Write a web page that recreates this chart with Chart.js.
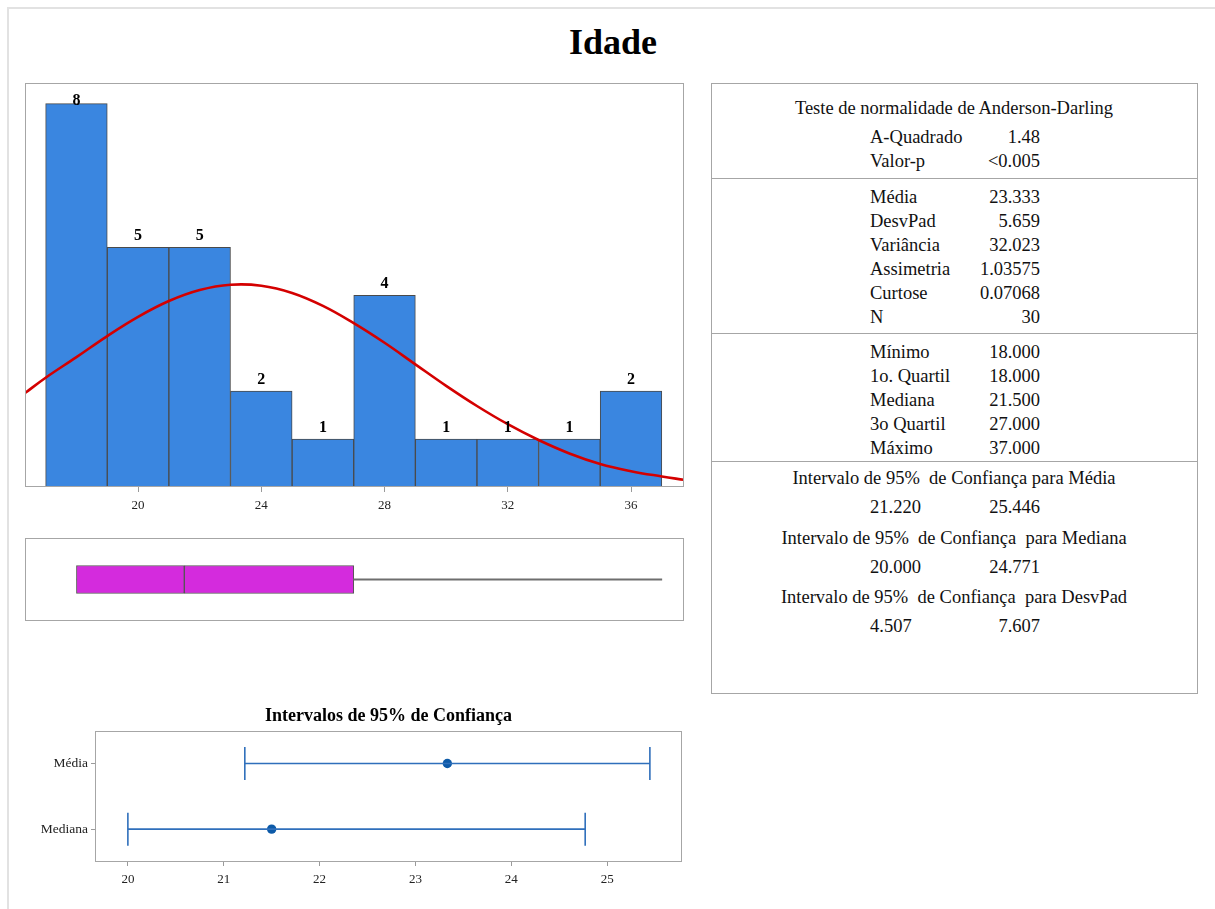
<!DOCTYPE html>
<html>
<head>
<meta charset="utf-8">
<title>Idade</title>
<script src="https://cdn.jsdelivr.net/npm/chart.js@4.4.1/dist/chart.umd.min.js"></script>
<style>
  html, body { margin: 0; padding: 0; background: #fff; }
  #page { position: relative; width: 1215px; height: 909px; overflow: hidden;
          font-family: 'Liberation Serif', 'Times New Roman', serif; color: #111; }
  #page canvas { position: absolute; }
  .frameOuter { position: absolute; left: 7px; top: 7px; right: 0; bottom: 0;
                border-top: 2px solid #e2e2e2; border-left: 2px solid #e2e2e2; }
  .title { position: absolute; font-weight: bold; font-size: 36px; line-height: 40px;
           white-space: pre; transform: translateX(-50%); color: #000; }
  .panel { position: absolute; border: 1px solid #a6a6a6; box-sizing: border-box; }
  .rule { position: absolute; height: 0; border-top: 1px solid #a6a6a6; }
  .t { position: absolute; white-space: pre; font-size: 18.5px; line-height: 20px; color: #111; }
</style>
</head>
<body>
<div id="page">
  <div class="frameOuter"></div>
  <div class="title" id="mainTitle" style="left:613px; top:22px;"></div>
  <canvas id="hist" width="700" height="460" style="left:0; top:70px;"></canvas>
  <canvas id="box" width="700" height="100" style="left:0; top:530px;"></canvas>
  <canvas id="ci" width="700" height="209" style="left:0; top:700px;"></canvas>
  <div class="panel" style="left:711px; top:83px; width:487px; height:611px;"></div>
  <div class="rule" style="left:711px; top:178px; width:487px;"></div>
  <div class="rule" style="left:711px; top:333px; width:487px;"></div>
  <div class="rule" style="left:711px; top:461px; width:487px;"></div>
</div>
<script>
// ---- data ----
const variableName = 'Idade';

// histogram: bin centres (width 2) and frequencies
const binCenters = [18, 20, 22, 24, 26, 28, 30, 32, 34, 36];
const binCounts  = [8, 5, 5, 2, 1, 4, 1, 1, 1, 2];
const histTicks  = [20, 24, 28, 32, 36];

// fitted normal curve, in frequency units
const fitX = [16.33, 17, 18, 19, 20, 21, 22, 23, 24, 25, 26, 27, 28, 29, 30, 31, 32, 33, 34, 35, 36, 37, 37.72];
const fitY = [1.96, 2.28, 2.71, 3.15, 3.55, 3.88, 4.11, 4.22, 4.20, 4.05, 3.78, 3.42, 3.01, 2.56, 2.11, 1.69, 1.31, 0.98, 0.70, 0.48, 0.33, 0.22, 0.15];

// Anderson-Darling test
const adLabels = ['A-Quadrado', 'Valor-p'];
const adValues = ['1.48', '<0.005'];

// moments
const momentLabels = ['Média', 'DesvPad', 'Variância', 'Assimetria', 'Curtose', 'N'];
const momentValues = ['23.333', '5.659', '32.023', '1.03575', '0.07068', '30'];

// five-number summary
const quantLabels = ['Mínimo', '1o. Quartil', 'Mediana', '3o Quartil', 'Máximo'];
const quantValues = [18.000, 18.000, 21.500, 27.000, 37.000];

// 95% confidence intervals
const meanValue   = 23.333;
const medianValue = 21.500;
const ciMean   = [21.220, 25.446];
const ciMedian = [20.000, 24.771];
const ciSd     = [4.507, 7.607];
const ciTitles = ['Intervalo de 95%  de Confiança para Média',
                  'Intervalo de 95%  de Confiança  para Mediana',
                  'Intervalo de 95%  de Confiança  para DesvPad'];
const ciRowLabels = ['Média', 'Mediana'];
const ciTicks = [20, 21, 22, 23, 24, 25];
const ciChartTitle = 'Intervalos de 95% de Confiança';

// ---- shared styling ----
const SERIF = "'Liberation Serif', 'Times New Roman', serif";
Chart.defaults.font.family = SERIF;
Chart.defaults.animation = false;
Chart.defaults.plugins.legend.display = false;
Chart.defaults.plugins.tooltip.enabled = false;

const HIST_MIN = 16.33, HIST_MAX = 37.72;

// thin grey box around each plot area
const framePlugin = {
  id: 'frame',
  afterDatasetsDraw(chart) {
    const { ctx, chartArea: a } = chart;
    const l = Math.round(a.left) + 0.5, t = Math.round(a.top) + 0.5;
    const r = Math.round(a.right) - 0.5, b = Math.round(a.bottom) - 0.5;
    ctx.save();
    ctx.strokeStyle = '#a6a6a6';
    ctx.lineWidth = 1;
    ctx.strokeRect(l, t, r - l, b - t);
    ctx.restore();
  }
};

// frequency written above each histogram bar
const countLabels = {
  id: 'countLabels',
  afterDatasetsDraw(chart) {
    const idx = chart.data.datasets.findIndex(d => d.type === 'bar');
    const meta = chart.getDatasetMeta(idx);
    const ctx = chart.ctx;
    ctx.save();
    ctx.font = 'bold 16px ' + SERIF;
    ctx.fillStyle = '#000';
    ctx.textAlign = 'center';
    ctx.textBaseline = 'alphabetic';
    meta.data.forEach((bar, i) => {
      const y = Math.max(bar.y - 7, chart.chartArea.top + 22);
      ctx.fillText(String(binCounts[i]), bar.x, y);
    });
    ctx.restore();
  }
};

const fixedTicks = list => scale => { scale.ticks = list.map(v => ({ value: v })); };

// ---- histogram with normal fit ----
new Chart(document.getElementById('hist'), {
  type: 'bar',
  data: {
    datasets: [
      { type: 'line', data: fitX.map((x, i) => ({ x, y: fitY[i] })),
        borderColor: '#d40000', borderWidth: 2.6, pointRadius: 0, tension: 0.4, order: 0 },
      { type: 'bar', data: binCenters.map((x, i) => ({ x, y: binCounts[i] })),
        backgroundColor: '#3a86e0', borderColor: '#4a4a4a', borderWidth: 1,
        barPercentage: 1, categoryPercentage: 1, order: 1 }
    ]
  },
  options: {
    responsive: false,
    layout: { padding: { left: 25, right: 16, top: 13, bottom: 0 } },
    scales: {
      x: {
        type: 'linear', min: HIST_MIN, max: HIST_MAX, offset: false,
        afterBuildTicks: fixedTicks(histTicks),
        afterFit: s => { s.height = 43; },
        grid: { display: true, offset: false, drawOnChartArea: false, drawTicks: true, tickLength: 5, color: '#9a9a9a' },
        border: { display: false },
        ticks: { padding: 6, color: '#222', font: { size: 13 } }
      },
      y: { type: 'linear', min: 0, max: 8.43, display: false }
    }
  },
  plugins: [framePlugin, countLabels]
});

// ---- box plot on the same scale ----
const [qMin, qQ1, qMed, qQ3, qMax] = quantValues;
const whiskerStyle = { backgroundColor: '#6e6e6e', barThickness: 1.5, grouped: false };
const boxStyle = { backgroundColor: '#d42bdd', borderColor: '#555', borderWidth: 1,
                   borderSkipped: false, barThickness: 28, grouped: false };
new Chart(document.getElementById('box'), {
  type: 'bar',
  data: {
    labels: [variableName],
    datasets: [
      Object.assign({ data: [[qMin, qQ1]] }, whiskerStyle),
      Object.assign({ data: [[qQ3, qMax]] }, whiskerStyle),
      Object.assign({ data: [[qQ1, qMed]] }, boxStyle),
      Object.assign({ data: [[qMed, qQ3]] }, boxStyle)
    ]
  },
  options: {
    responsive: false,
    indexAxis: 'y',
    layout: { padding: { left: 25, right: 16, top: 8, bottom: 9 } },
    scales: {
      x: { type: 'linear', min: HIST_MIN, max: HIST_MAX, display: false },
      y: { type: 'category', display: false }
    }
  },
  plugins: [framePlugin]
});

// ---- confidence intervals ----
const ciBlue = '#2f6fbb';
const ciRows = [
  { value: meanValue, lo: ciMean[0], hi: ciMean[1] },
  { value: medianValue, lo: ciMedian[0], hi: ciMedian[1] }
];
const ciDatasets = [];
ciRows.forEach((row, i) => {
  const y = ciRowLabels.length - 1 - i;
  ciDatasets.push({ data: [{ x: row.lo, y }, { x: row.hi, y }], showLine: true,
                    borderColor: ciBlue, borderWidth: 1.6, pointRadius: 0 });
  ciDatasets.push({ data: [{ x: row.lo, y }, { x: row.hi, y }], showLine: false,
                    pointStyle: 'line', pointRotation: 90, pointRadius: 16.5,
                    pointBorderColor: ciBlue, pointBorderWidth: 1.6 });
  ciDatasets.push({ data: [{ x: row.value, y }], showLine: false,
                    pointStyle: 'circle', pointRadius: 4.7,
                    pointBackgroundColor: '#0d5aa8', pointBorderColor: '#0d5aa8', pointBorderWidth: 0 });
});
new Chart(document.getElementById('ci'), {
  type: 'scatter',
  data: { datasets: ciDatasets },
  options: {
    responsive: false,
    layout: { padding: { left: 0, right: 16, top: 0, bottom: 0 } },
    plugins: {
      title: { display: true, text: ciChartTitle, fullSize: false, color: '#000',
               font: { size: 18, weight: 'bold' }, padding: { top: 6, bottom: 3 } }
    },
    scales: {
      x: {
        type: 'linear', min: 19.657, max: 25.78,
        afterBuildTicks: fixedTicks(ciTicks),
        afterFit: s => { s.height = 47; },
        grid: { display: true, drawOnChartArea: false, drawTicks: true, tickLength: 4, color: '#9a9a9a' },
        border: { display: false },
        ticks: { padding: 6, color: '#222', font: { size: 13 } }
      },
      y: {
        type: 'linear', min: -0.5, max: 1.5,
        afterBuildTicks: fixedTicks(ciRowLabels.map((_, i) => ciRowLabels.length - 1 - i)),
        afterFit: s => { s.width = 95; },
        grid: { display: true, drawOnChartArea: false, drawTicks: true, tickLength: 4, color: '#9a9a9a' },
        border: { display: false },
        ticks: { padding: 3, color: '#222', font: { size: 13.5 },
                 callback: v => ciRowLabels[ciRowLabels.length - 1 - v] }
      }
    }
  },
  plugins: [framePlugin]
});

// ---- summary table ----
const page = document.getElementById('page');
document.getElementById('mainTitle').textContent = variableName;

function put(text, x, baseline, align) {
  const d = document.createElement('div');
  d.className = 't';
  d.textContent = text;
  d.style.top = (baseline - 16) + 'px';
  if (align === 'right') { d.style.right = (1215 - x) + 'px'; }
  else if (align === 'center') { d.style.left = x + 'px'; d.style.transform = 'translateX(-50%)'; }
  else { d.style.left = x + 'px'; }
  page.appendChild(d);
}
const COL_L = 870, COL_R = 1040, MID = 954;
put('Teste de normalidade de Anderson-Darling', MID, 114, 'center');
adLabels.forEach((lab, i) => { put(lab, COL_L, 143 + i * 24, 'left'); put(adValues[i], COL_R, 143 + i * 24, 'right'); });
momentLabels.forEach((lab, i) => { put(lab, COL_L, 203 + i * 24, 'left'); put(momentValues[i], COL_R, 203 + i * 24, 'right'); });
quantLabels.forEach((lab, i) => { put(lab, COL_L, 358 + i * 24, 'left'); put(quantValues[i].toFixed(3), COL_R, 358 + i * 24, 'right'); });
[ciMean, ciMedian, ciSd].forEach((iv, i) => {
  const base = 484 + i * 59.5;
  put(ciTitles[i], MID, base, 'center');
  put(iv[0].toFixed(3), COL_L, base + 29, 'left');
  put(iv[1].toFixed(3), COL_R, base + 29, 'right');
});
</script>
</body>
</html>
